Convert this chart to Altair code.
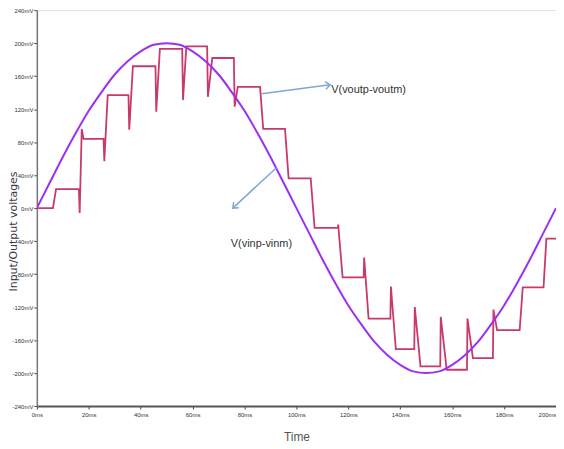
import altair as alt
import pandas as pd

# Input sine V(vinp-vinm), read every 5 ms (mV)
in_t = [0, 5, 10, 15, 20, 25, 30, 35, 40, 45, 50, 55, 60, 65, 70, 75, 80, 85, 90, 95, 100,
        105, 110, 115, 120, 125, 130, 135, 140, 145, 150, 155, 160, 165, 170, 175, 180, 185, 190, 195, 200]
in_v = [0, 31, 62, 91, 118, 141, 162, 178, 190, 198, 200, 198, 190, 178, 162, 141, 118, 91, 62, 31, 0,
        -31, -62, -91, -118, -141, -162, -178, -190, -198, -200, -198, -190, -178, -162, -141, -118, -91, -62, -31, 0]

# Output staircase V(voutp-voutm) (ms, mV)
out_t = [0, 6.2, 7.4, 16.2, 16.5, 17.3, 18.0, 25.7, 26.0, 27.3, 35.3, 35.6, 37.0, 45.7, 46.0, 47.4,
         56.0, 56.3, 57.6, 65.6, 65.9, 67.6, 75.9, 76.2, 77.4, 86.0, 87.2, 95.6, 97.0, 105.5, 107.0,
         115.9, 116.1, 117.8, 125.9, 126.1, 127.8, 136.2, 136.4, 138.3, 145.4, 145.6, 147.8,
         155.4, 155.6, 157.9, 165.7, 165.9, 168.0, 175.7, 175.9, 177.3, 186.0, 187.2, 195.2, 196.3, 200]
out_v = [0, 0, 23, 23, -6, 96, 84, 84, 57, 137, 137, 95, 172, 172, 117, 193,
         193, 131, 196, 196, 135, 182, 182, 123, 147, 147, 96, 96, 36, 36, -24,
         -24, -20, -84, -84, -60, -134, -134, -95, -171, -171, -120, -192,
         -192, -132, -196, -196, -134, -182, -182, -123, -148, -148, -96, -96, -37, -37]

x_ticks = [0, 20, 40, 60, 80, 100, 120, 140, 160, 180, 200]
y_ticks = [-240, -200, -160, -120, -80, -40, 0, 40, 80, 120, 160, 200, 240]

# Annotations
label_text = ["V(voutp-voutm)", "V(vinp-vinm)"]
label_t = [113.4, 74.7]
label_v = [143.5, -43.4]
arrow_id = ["a", "a", "b", "b"]
arrow_t = [86.6, 113.0, 92.3, 75.5]
arrow_v = [138.7, 149.5, 49.0, 0.0]
head_t = [113.0, 75.5]
head_v = [149.5, 0.0]
head_angle = [352.6, 137.0]

df_in = pd.DataFrame({"t": in_t, "v": in_v})
df_out = pd.DataFrame({"t": out_t, "v": out_v})
df_lab = pd.DataFrame({"t": label_t, "v": label_v, "text": label_text})
df_arr = pd.DataFrame({"id": arrow_id, "t": arrow_t, "v": arrow_v, "o": [0, 1, 0, 1]})
df_head = pd.DataFrame({"t": head_t, "v": head_v, "ang": head_angle})

xs = alt.Scale(domain=[0, 200], nice=False)
ys = alt.Scale(domain=[-240, 240], nice=False)

x_axis = alt.Axis(values=x_ticks, labelExpr="datum.value + 'ms'", title="Time", grid=False,
                  labelFontSize=6, labelColor="#333", tickSize=3, tickColor="#444",
                  domainColor="#555", domainWidth=2, titleFontSize=12, titleColor="#555",
                  titleFontWeight="normal", titlePadding=14, labelPadding=3,
                  labelOverlap=False, labelFlush=False,
                  labelAlign={"condition": {"test": "datum.value >= 200", "value": "right"},
                              "value": "center"})
y_axis = alt.Axis(values=y_ticks, labelExpr="datum.value + 'mV'", title="Input/Output voltages",
                  grid=False, labelFontSize=6, labelColor="#333", tickSize=3, tickColor="#444",
                  domainColor="#777", domainWidth=1.5, titleFontSize=11, titleColor="#3a3a4a",
                  titleFont="DejaVu Sans",
                  titleFontWeight="normal", labelPadding=1, labelOverlap=False,
                  labelFlush=False, labelBound=False, tickCount=13,
                  titleX=-20.5, titleY=222, titleBaseline="alphabetic", titleAngle=270)

base_x = alt.X("t:Q", scale=xs, axis=x_axis)
base_y = alt.Y("v:Q", scale=ys, axis=y_axis)

out_line = alt.Chart(df_out).mark_line(color="#c8396c", strokeWidth=1.8, clip=True).encode(
    x=base_x, y=base_y)
in_line = alt.Chart(df_in).mark_line(color="#9b30f0", strokeWidth=2, interpolate="monotone",
                                     clip=True).encode(x="t:Q", y="v:Q")
arrows = alt.Chart(df_arr).mark_line(color="#7ea6d8", strokeWidth=1.5).encode(
    x="t:Q", y="v:Q", detail="id:N", order="o:Q")
heads = alt.Chart(df_head).mark_point(shape="M -1 -0.8 L 0 0 L -1 0.8", filled=False,
                                      color="#7ea6d8", strokeWidth=1.5, size=90, opacity=1).encode(
    x="t:Q", y="v:Q", angle=alt.Angle("ang:Q", scale=None))
labels = alt.Chart(df_lab).mark_text(align="left", baseline="middle", fontSize=11,
                                     font="Liberation Sans Narrow, Liberation Sans",
                                     color="#333").encode(x="t:Q", y="v:Q", text="text:N")

chart = alt.layer(out_line, in_line, arrows, heads, labels).properties(
    width=522, height=398,
    autosize=alt.AutoSizeParams(type="none"),
    padding={"left": 29, "top": 1, "right": 0, "bottom": 40},
).configure_view(stroke="#777", strokeWidth=2).configure(background="white")

chart.save("out.html", embed_options={"renderer": "svg", "actions": False})
